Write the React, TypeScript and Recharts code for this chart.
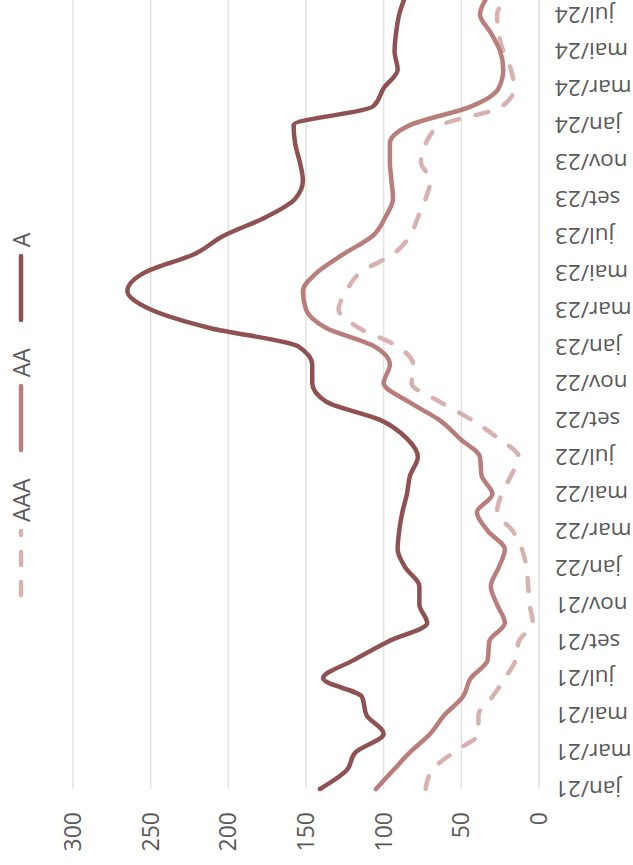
import { LineChart, Line, XAxis, YAxis, CartesianGrid, Legend } from 'recharts'

const months = [
  'jan/21', 'fev/21', 'mar/21', 'abr/21', 'mai/21', 'jun/21', 'jul/21', 'ago/21', 'set/21', 'out/21', 'nov/21', 'dez/21',
  'jan/22', 'fev/22', 'mar/22', 'abr/22', 'mai/22', 'jun/22', 'jul/22', 'ago/22', 'set/22', 'out/22', 'nov/22', 'dez/22',
  'jan/23', 'fev/23', 'mar/23', 'abr/23', 'mai/23', 'jun/23', 'jul/23', 'ago/23', 'set/23', 'out/23', 'nov/23', 'dez/23',
  'jan/24', 'fev/24', 'mar/24', 'abr/24', 'mai/24', 'jun/24', 'jul/24', 'ago/24',
]

const ratingA = [
  141, 124, 118, 100, 111, 114, 139, 119, 97, 72, 77, 77,
  86, 91, 90, 88, 85, 83, 78, 85, 102, 137, 146, 146,
  155, 212, 250, 265, 254, 222, 203, 176, 157, 152, 154, 157,
  158, 107, 100, 91, 93, 92, 90, 86,
]

const ratingAA = [
  105, 94, 83, 70, 61, 49, 44, 33, 32, 22, 27, 31,
  26, 22, 33, 40, 30, 37, 38, 51, 64, 84, 100, 96,
  106, 137, 150, 152, 143, 126, 107, 99, 94, 95, 96, 96,
  83, 44, 26, 23, 25, 31, 38, 33,
]

const ratingAAA = [
  73, 69, 55, 39, 39, 30, 22, 15, 13, 4, 6, 7,
  8, 11, 17, 27, 24, 18, 13, 26, 43, 64, 82, 81,
  91, 116, 129, 124, 115, 94, 83, 78, 73, 70, 76, 73,
  63, 24, 16, 18, 23, 26, 27, 19,
]

const yTicks = [0, 50, 100, 150, 200, 250, 300]
const legendOrder = ['AAA', 'AA', 'A']

const data = months.map((m, i) => ({ m, AAA: ratingAAA[i], AA: ratingAA[i], A: ratingA[i] }))

const FONT = '"Open Sans", sans-serif'
const TEXT = '#595959'

function MonthTick({ x, y, payload }: any) {
  return (
    <g transform={`translate(${x},${y})`}>
      <text
        transform="rotate(-90)"
        textAnchor="end"
        dy="0.35em"
        fill={TEXT}
        fontSize={22.5}
        fontFamily={FONT}
      >
        {payload.value}
      </text>
    </g>
  )
}

function LegendBox({ payload }: any) {
  const items = [...(payload ?? [])].sort(
    (a: any, b: any) => legendOrder.indexOf(a.value) - legendOrder.indexOf(b.value)
  )
  return (
    <div style={{ display: 'flex', alignItems: 'center', height: 30, fontFamily: FONT, fontSize: 23, color: TEXT }}>
      {items.map((p: any, i: number) => (
        <div key={p.value} style={{ display: 'flex', alignItems: 'center', marginLeft: i === 0 ? 0 : 25 }}>
          <svg width={70} height={10}>
            <line
              x1={3}
              y1={5}
              x2={67}
              y2={5}
              stroke={p.color}
              strokeWidth={4.5}
              strokeLinecap="round"
              strokeDasharray={p.payload?.strokeDasharray}
            />
          </svg>
          <span style={{ marginLeft: 6, lineHeight: '30px' }}>{p.value}</span>
        </div>
      ))}
    </div>
  )
}

export default function App() {
  return (
    <div
      style={{
        position: 'fixed',
        left: 0,
        top: 0,
        width: 633,
        height: 865,
        overflow: 'hidden',
        background: '#fff',
      }}
    >
      <div
        style={{
          position: 'absolute',
          left: 0,
          top: 0,
          width: 880,
          height: 633,
          transformOrigin: '0 0',
          transform: 'translateY(865px) rotate(-90deg)',
        }}
      >
        <LineChart
          width={880}
          height={633}
          data={data}
          margin={{ top: 73, right: 11, bottom: 0, left: 0 }}
          style={{ fontFamily: FONT }}
        >
          <CartesianGrid vertical={false} stroke="#e2e2e2" strokeWidth={1.5} />
          <XAxis
            dataKey="m"
            interval={1}
            height={94}
            axisLine={false}
            tickLine={false}
            tickSize={0}
            tickMargin={16}
            tick={<MonthTick />}
          />
          <YAxis
            domain={[0, 300]}
            ticks={yTicks}
            width={76}
            axisLine={false}
            tickLine={false}
            tickSize={0}
            tickMargin={23}
            tick={{ fill: TEXT, fontSize: 23, fontFamily: FONT }}
          />
          <Legend
            layout="horizontal"
            verticalAlign="middle"
            align="center"
            wrapperStyle={{ top: 6, left: 267, width: 'auto' }}
            content={<LegendBox />}
          />
          <Line
            dataKey="AAA"
            type="monotone"
            stroke="#d8b2b0"
            strokeWidth={4.5}
            strokeLinecap="round"
            strokeDasharray="13 17"
            dot={false}
            isAnimationActive={false}
          />
          <Line
            dataKey="AA"
            type="monotone"
            stroke="#b97d7b"
            strokeWidth={4.5}
            strokeLinecap="round"
            dot={false}
            isAnimationActive={false}
          />
          <Line
            dataKey="A"
            type="monotone"
            stroke="#8f5151"
            strokeWidth={4.5}
            strokeLinecap="round"
            dot={false}
            isAnimationActive={false}
          />
        </LineChart>
      </div>
    </div>
  )
}
